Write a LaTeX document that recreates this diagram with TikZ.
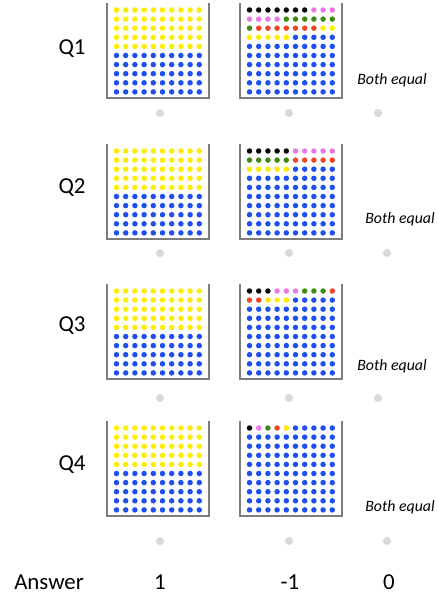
\documentclass[tikz,border=0pt]{standalone}
\usepackage{fontspec}
\setmainfont{Carlito}
\usepackage{tikz}
\usetikzlibrary{positioning}

\definecolor{dotyellow}{RGB}{255,236,0}
\definecolor{dotblue}{RGB}{30,80,240}
\definecolor{dotblack}{RGB}{10,10,10}
\definecolor{dotpink}{RGB}{232,120,232}
\definecolor{dotgreen}{RGB}{60,140,20}
\definecolor{dotred}{RGB}{240,70,40}
\definecolor{jarline}{RGB}{125,125,125}

% #1 left, #2 bottom, #3 dots per colour, #4 first colour
\newcommand{\drawjar}[4]{%
  \draw[jar] (#1,#2-95) -- (#1,#2) -- (#1+102,#2) -- (#1+102,#2-95);
  \foreach \n in {0,...,99}{
    \pgfmathtruncatemacro{\row}{floor(\n/10)}
    \pgfmathtruncatemacro{\col}{\n-10*\row}
    \pgfmathtruncatemacro{\grp}{floor(\n/#3)+#4}
    \ifcase\grp \def\dotcol{dotblack}\or\def\dotcol{dotpink}\or\def\dotcol{dotgreen}\or\def\dotcol{dotred}\or\def\dotcol{dotyellow}\else\def\dotcol{dotblue}\fi
    \fill[\dotcol] (#1+9.5+9.2*\col,#2-88+9.1*\row) circle[radius=2.75];
  }
}

\begin{document}
\begin{tikzpicture}[x=0.02cm,y=-0.02cm,
		jar/.style = {draw=jarline,line width=0.85pt},
		qlabel/.style = {font=\fontsize{13}{15}\selectfont},
		equal/.style = {font=\fontsize{9}{11}\selectfont\itshape},
		radio/.style = {circle,fill=gray!30,inner sep=0pt,minimum size=4.6pt}]
			\useasboundingbox (0,0) rectangle (437,598);
			% question labels
			\node[qlabel] at (72,49) (q1) {Q1};
			\node[qlabel] at (72,188) (q2) {Q2};
			\node[qlabel] at (72,326) (q3) {Q3};
			\node[qlabel] at (72,465) (q4) {Q4};
			% jars
			\drawjar{107}{98}{50}{4}
			\drawjar{240}{98}{7}{0}
			\drawjar{107}{239}{50}{4}
			\drawjar{240}{239}{5}{0}
			\drawjar{107}{379}{50}{4}
			\drawjar{240}{379}{3}{0}
			\drawjar{107}{516}{50}{4}
			\drawjar{240}{516}{1}{0}
			% both equal
			\node[equal] at (392,80) (e1) {Both equal};
			\node[equal] at (400,219) (e2) {Both equal};
			\node[equal] at (392,366) (e3) {Both equal};
			\node[equal] at (400,507) (e4) {Both equal};
			% answer buttons
			\node[radio] at (160,113) (a1) {};
			\node[radio] at (289,113) (b1) {};
			\node[radio] at (378,113) (c1) {};
			\node[radio] at (160,253) (a2) {};
			\node[radio] at (289,253) (b2) {};
			\node[radio] at (387,253) (c2) {};
			\node[radio] at (160,398) (a3) {};
			\node[radio] at (289,398) (b3) {};
			\node[radio] at (378,398) (c3) {};
			\node[radio] at (160,541) (a4) {};
			\node[radio] at (289,541) (b4) {};
			\node[radio] at (387,541) (c4) {};
			% answer row
			\node[qlabel] at (49,582) (ans) {Answer};
			\node[qlabel] at (160,582) (v1) {1};
			\node[qlabel] at (290,582) (v2) {-1};
			\node[qlabel] at (389,582) (v3) {0};
		\end{tikzpicture}
\end{document}
